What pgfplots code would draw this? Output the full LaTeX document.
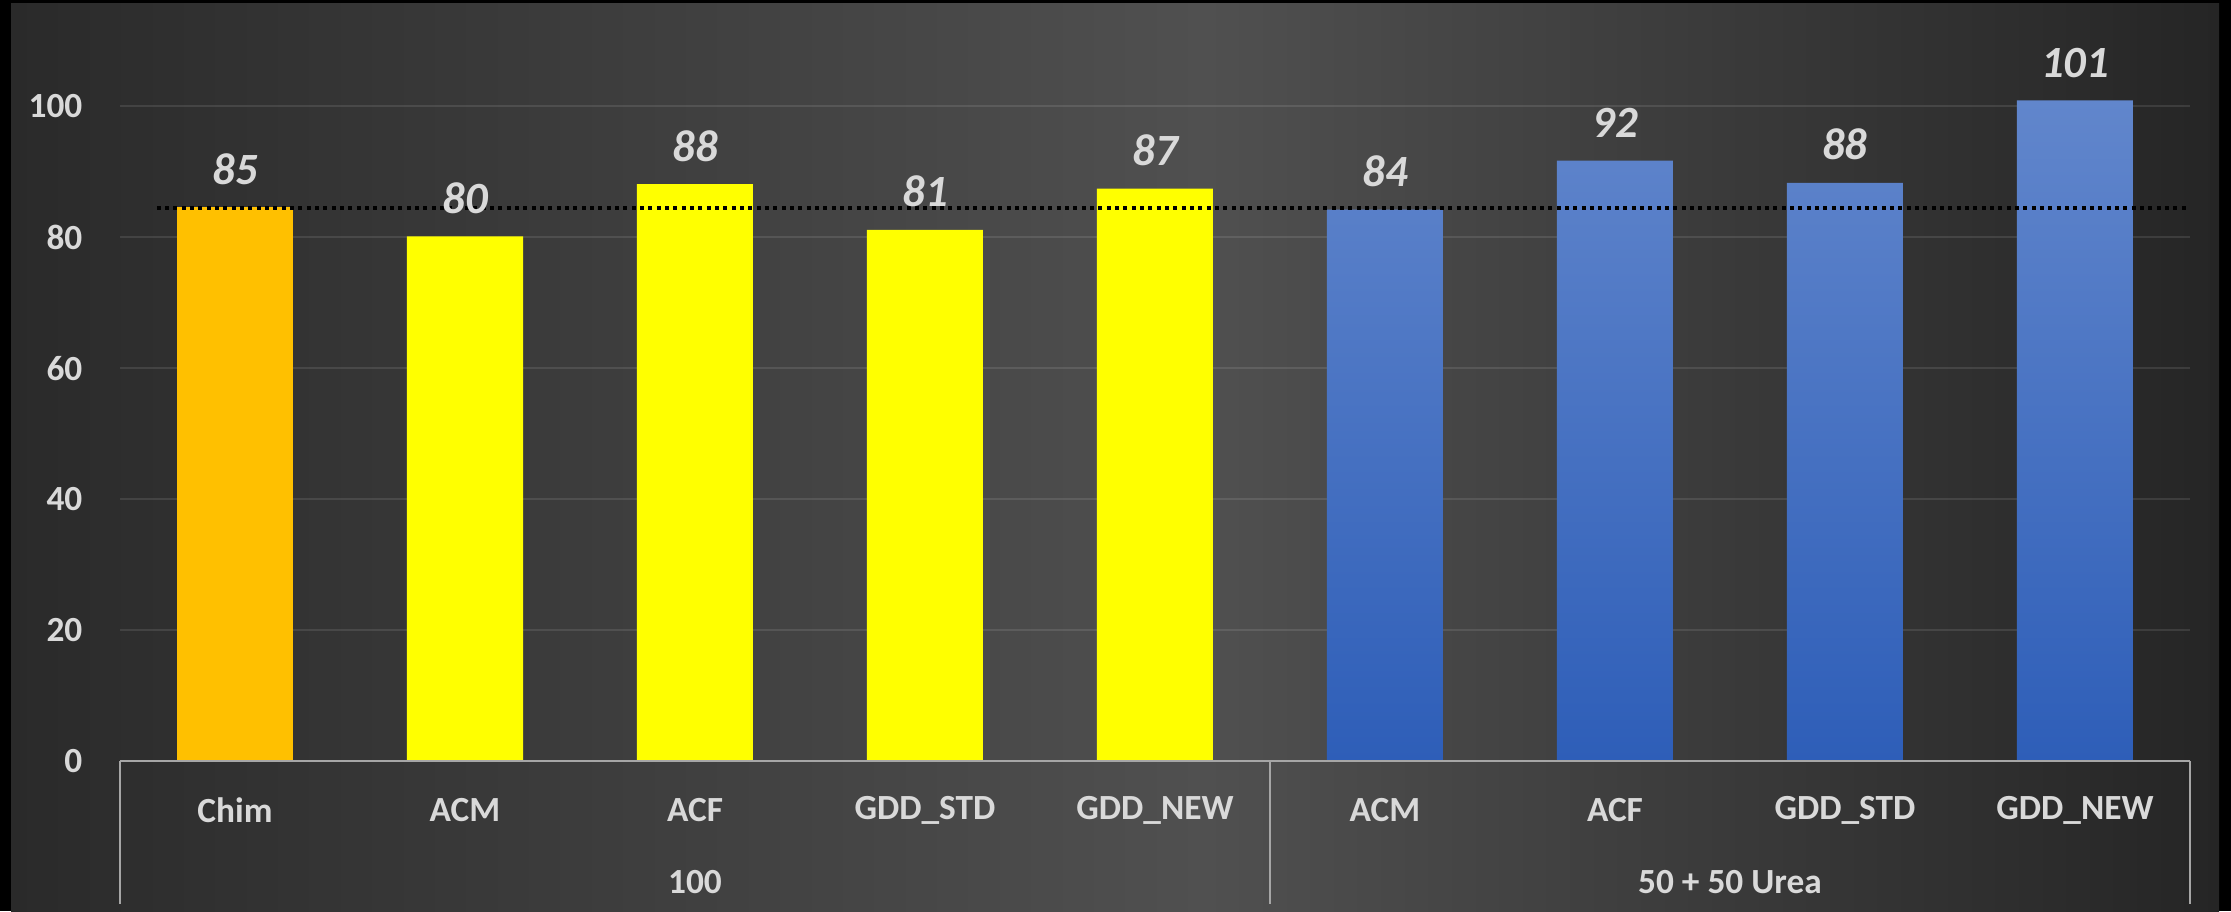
\documentclass[border=0pt]{standalone}
\usepackage{fontspec}
\setmainfont{Carlito}
\usepackage{pgfplots}
\pgfplotsset{compat=1.18}
\definecolor{txt}{HTML}{D9D9D9}
\definecolor{bgL}{HTML}{2A2A2A}
\definecolor{bgM}{HTML}{505050}
\definecolor{bgR}{HTML}{252525}
\definecolor{chim}{HTML}{FFC000}
\definecolor{yel}{HTML}{FFFF00}
\definecolor{blueT}{HTML}{6186CC}
\definecolor{blueB}{HTML}{2E5EB8}
\definecolor{axgray}{HTML}{A6A6A6}
\pgfdeclarehorizontalshading{bgshade}{100bp}{color(0bp)=(bgL); color(25bp)=(bgL); color(52bp)=(bgM); color(75bp)=(bgR); color(100bp)=(bgR)}
\pgfplotsset{
  mybar/.style={ybar, bar width=34.8pt, bar shift=0pt, draw=none,
    nodes near coords={\pgfplotspointmeta},
    point meta=explicit symbolic,
    nodes near coords style={anchor=south, inner sep=0pt, yshift=6.6pt, font=\bfseries\itshape\fontsize{13.4}{15}\selectfont, text=txt}},
}
\begin{document}
\begin{tikzpicture}
\useasboundingbox (0,0) rectangle (669.3pt,273.3pt);
\fill[black] (0,0) rectangle (669.3pt,273.3pt);
\shade[shading=bgshade] (3.3pt,0) rectangle (665.7pt,272.1pt);
\begin{axis}[
  at={(36pt,45pt)}, anchor=south west,
  scale only axis, width=621pt, height=227.1pt,
  xmin=-0.5, xmax=8.5, ymin=0, ymax=115.6,
  clip=false,
  axis line style={draw=none},
  major tick length=0pt,
  xtick={0,...,8},
  xticklabels={Chim,ACM,ACF,GDD\_STD,GDD\_NEW,ACM,ACF,GDD\_STD,GDD\_NEW},
  ytick={0,20,40,60,80,100},
  /pgf/number format/assume math mode=true,
  xticklabel style={anchor=center, yshift=-14.7pt, inner sep=0pt, font=\bfseries\fontsize{10.6}{12}\selectfont, text=txt},
  yticklabel style={anchor=east, inner sep=0pt, xshift=-11.1pt, font=\bfseries\fontsize{10.6}{12}\selectfont, text=txt},
  ymajorgrids,
  major grid style={white, opacity=0.1, line width=0.45pt},
]
\addplot[mybar, fill=chim]
  coordinates {(0,84.6) [85]};
\addplot[mybar, fill=yel]
  coordinates {(1,80.1) [80] (2,88.1) [88] (3,81.1) [81] (4,87.4) [87]};
\addplot[mybar, top color=blueT, bottom color=blueB]
  coordinates {(5,84.2) [84] (6,91.7) [92] (7,88.3) [88] (8,100.9) [101]};
\addplot[black, line width=1.2pt, dash pattern=on 1.2pt off 1.3pt, mark=none]
  coordinates {(-0.34,84.4) (8.5,84.4)};
\draw[axgray, line width=0.75pt] (axis cs:-0.5,0) -- (axis cs:8.5,0);
\draw[axgray, line width=0.6pt] (axis cs:-0.5,0) -- ([yshift=-42.9pt]axis cs:-0.5,0);
\draw[axgray, line width=0.6pt] (axis cs:4.5,0) -- ([yshift=-42.9pt]axis cs:4.5,0);
\draw[axgray, line width=0.6pt] (axis cs:8.5,0) -- ([yshift=-42.9pt]axis cs:8.5,0);
\node[font=\bfseries\fontsize{10.6}{12}\selectfont, text=txt, inner sep=0pt] at (axis cs:2,0) [yshift=-36.3pt] {100};
\node[font=\bfseries\fontsize{10.6}{12}\selectfont, text=txt, inner sep=0pt] at (axis cs:6.5,0) [yshift=-36.3pt] {50 + 50 Urea};
\end{axis}
\end{tikzpicture}
\end{document}
